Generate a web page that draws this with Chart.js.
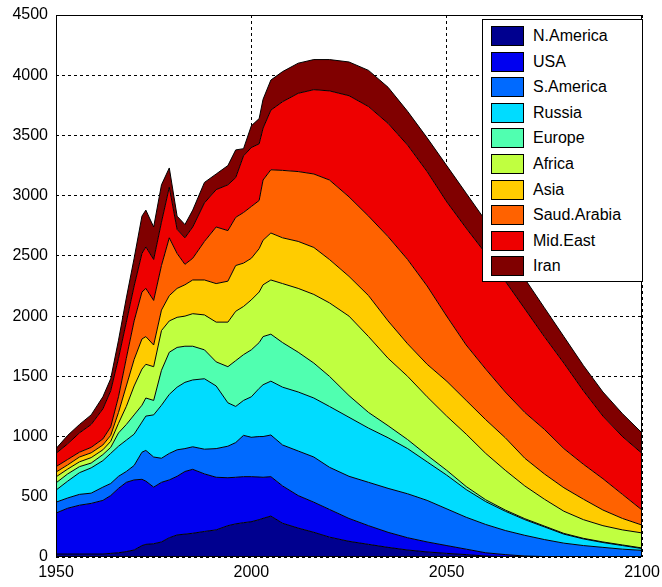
<!DOCTYPE html>
<html>
<head>
<meta charset="utf-8">
<script src="https://cdn.jsdelivr.net/npm/chart.js@4.4.1/dist/chart.umd.min.js"></script>
<style>
  html, body { margin: 0; padding: 0; background: #fff; }
  #wrap { position: relative; width: 662px; height: 587px; }
  #legend {
    position: absolute; left: 482px; top: 19px; width: 159px; height: 261px;
    border: 1px solid #000; background: #fff;
    font: 16px "Liberation Sans", Arial, sans-serif; color: #000;
  }
  .sw { position: absolute; left: 8px; width: 31px; height: 18px; border: 1px solid #000; }
  .lbl { position: absolute; left: 50px; line-height: 20px; white-space: nowrap; }
</style>
</head>
<body>
<div id="wrap">
  <canvas id="chart" width="662" height="587"></canvas>
  <div id="legend"></div>
</div>
<script>
const years = [1950, 1953, 1956, 1959, 1962, 1964, 1966, 1968, 1970, 1972, 1973, 1975, 1977, 1979, 1981,
  1983, 1985, 1988, 1991, 1994, 1996, 1998, 2000, 2002, 2003, 2005, 2008, 2012, 2016, 2020,
  2025, 2030, 2035, 2040, 2045, 2050, 2055, 2060, 2065, 2070, 2075, 2080, 2085, 2090, 2095, 2100];

const nAmerica = [25, 25, 25, 25, 25, 30, 35, 45, 58, 95, 105, 110, 125, 160, 183,
  190, 197, 212, 225, 260, 275, 285, 293, 310, 321, 340, 280, 240, 205, 165,
  130, 105, 80, 58, 42, 30, 20, 8, 3, 1, 0, 0, 0, 0, 0, 0];
const usa = [340, 380, 405, 420, 445, 480, 535, 575, 582, 550, 525, 470, 495, 480, 487,
  520, 531, 478, 437, 398, 387, 382, 374, 354, 341, 327, 310, 270, 250, 230,
  190, 155, 125, 102, 83, 65, 45, 27, 17, 7, 4, 2, 1, 1, 0, 0];
const sAmerica = [90, 85, 90, 85, 110, 100, 100, 90, 120, 225, 255, 250, 200, 220, 220,
  190, 187, 205, 238, 262, 288, 343, 327, 336, 338, 346, 340, 370, 375, 350,
  350, 360, 365, 365, 345, 305, 265, 235, 200, 172, 141, 113, 94, 79, 65, 55];
const russia = [100, 140, 180, 210, 220, 250, 250, 260, 260, 250, 285, 350, 440, 490, 520,
  550, 555, 585, 520, 360, 300, 290, 336, 400, 430, 447, 480, 490, 490, 505,
  490, 450, 420, 375, 320, 280, 230, 190, 160, 130, 105, 75, 55, 40, 30, 15];
const europe = [60, 60, 50, 40, 50, 50, 110, 130, 160, 140, 150, 120, 290, 350, 330,
  300, 280, 240, 200, 300, 380, 380, 390, 380, 400, 390, 370, 330, 290, 250,
  180, 130, 100, 75, 55, 40, 25, 15, 10, 8, 7, 6, 5, 5, 5, 5];
const africa = [50, 40, 40, 45, 40, 50, 80, 150, 240, 300, 280, 280, 330, 260, 250,
  250, 270, 290, 330, 370, 410, 400, 415, 420, 430, 450, 490, 530, 570, 610,
  660, 630, 560, 525, 485, 450, 435, 385, 330, 272, 223, 184, 155, 135, 125, 125];
const asia = [40, 35, 40, 40, 40, 50, 90, 170, 220, 250, 230, 180, 170, 210, 240,
  260, 280, 290, 320, 340, 380, 360, 345, 360, 370, 390, 380, 390, 390, 360,
  330, 340, 310, 270, 270, 290, 280, 280, 270, 230, 210, 195, 170, 130, 95, 65];
const saudArabia = [45, 45, 40, 45, 50, 70, 130, 230, 320, 390, 400, 370, 370, 480, 290,
  170, 180, 320, 470, 420, 400, 420, 430, 400, 500, 525, 560, 580, 610, 660,
  660, 660, 700, 700, 650, 540, 460, 420, 380, 380, 370, 325, 290, 260, 200, 125];
const midEast = [110, 130, 160, 190, 250, 300, 320, 300, 290, 320, 345, 340, 360, 420, 200,
  220, 260, 320, 310, 380, 330, 470, 490, 470, 430, 495, 570, 650, 700, 740,
  840, 910, 940, 950, 950, 950, 970, 960, 920, 860, 770, 710, 610, 520, 480, 470];
const iran = [40, 70, 70, 80, 100, 100, 150, 200, 230, 310, 305, 270, 310, 160, 110,
  110, 140, 170, 130, 160, 230, 60, 180, 210, 240, 250, 250, 250, 250, 260,
  280, 300, 300, 280, 280, 300, 290, 270, 260, 250, 240, 220, 210, 200, 190, 170];

const regions = ["N.America", "USA", "S.America", "Russia", "Europe",
  "Africa", "Asia", "Saud.Arabia", "Mid.East", "Iran"];
const colors = ["#00008f", "#0000f0", "#006aff", "#00dcff", "#50ffb0",
  "#c0ff40", "#ffcc00", "#ff6200", "#ee0000", "#800000"];
const series = [nAmerica, usa, sAmerica, russia, europe, africa, asia, saudArabia, midEast, iran];

const xTicks = [1950, 2000, 2050, 2100];

Chart.defaults.font.family = '"Liberation Sans", Arial, sans-serif';
Chart.defaults.font.size = 16;
Chart.defaults.color = "#000";

// black box round the plot area, drawn over the areas
const boxPlugin = {
  id: "box",
  afterDraw(chart) {
    const { ctx, chartArea: a } = chart;
    ctx.save();
    ctx.strokeStyle = "#000";
    ctx.lineWidth = 1;
    ctx.strokeRect(Math.round(a.left) + 0.5, Math.round(a.top) + 0.5,
      Math.round(a.width) - 1, Math.round(a.height) - 1);
    ctx.restore();
  }
};

const datasets = series.map((vals, i) => ({
  label: regions[i],
  data: vals.map((v, k) => ({ x: years[k], y: v })),
  backgroundColor: colors[i],
  borderColor: "#000",
  borderWidth: 1,
  pointRadius: 0,
  tension: 0,
  fill: i === 0 ? "origin" : "-1"
}));

const chart = new Chart(document.getElementById("chart"), {
  type: "line",
  data: { datasets },
  options: {
    responsive: false,
    animation: false,
    events: [],
    layout: { padding: { top: 15, right: 20, bottom: 0, left: 0 } },
    plugins: {
      legend: { display: false },
      tooltip: { enabled: false },
      title: { display: false }
    },
    scales: {
      x: {
        type: "linear",
        min: 1950,
        max: 2100,
        afterBuildTicks: s => { s.ticks = xTicks.map(v => ({ value: v })); },
        afterFit: s => { s.height = 30; s.paddingLeft = 0; s.paddingRight = 0; },
        ticks: { callback: v => String(v), maxRotation: 0, autoSkip: false, padding: 6, color: "#000" },
        grid: { color: "#000", lineWidth: 1, drawTicks: false },
        border: { display: false, dash: [3, 3] }
      },
      y: {
        stacked: true,
        min: 0,
        max: 4500,
        afterFit: s => { s.width = 56; s.paddingTop = 0; s.paddingBottom = 0; },
        ticks: { stepSize: 500, callback: v => String(v), padding: 8, color: "#000" },
        grid: { color: "#000", lineWidth: 1, drawTicks: false },
        border: { display: false, dash: [3, 3] }
      }
    }
  },
  plugins: [boxPlugin]
});

// legend box inside the plot, top right
const legend = document.getElementById("legend");
chart.data.datasets.forEach((ds, i) => {
  const top = 6 + 25.6 * i;
  const sw = document.createElement("div");
  sw.className = "sw";
  sw.style.top = top + "px";
  sw.style.background = ds.backgroundColor;
  const lbl = document.createElement("div");
  lbl.className = "lbl";
  lbl.style.top = top + "px";
  lbl.textContent = ds.label;
  legend.appendChild(sw);
  legend.appendChild(lbl);
});
</script>
</body>
</html>
